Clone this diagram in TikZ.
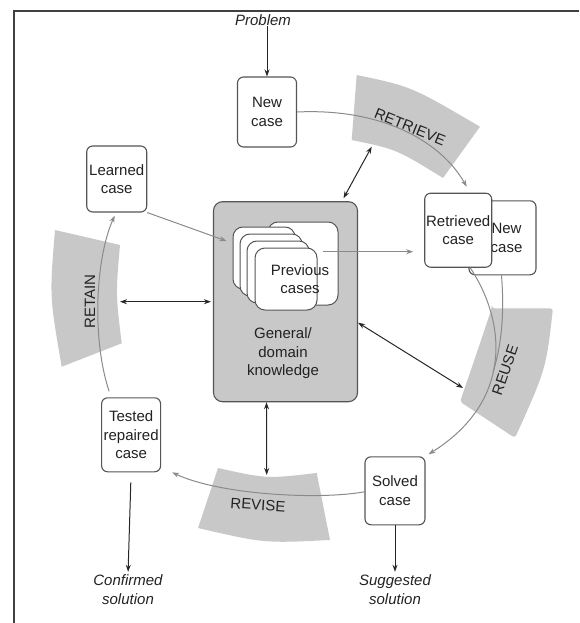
\documentclass[tikz,border=0pt]{standalone}
\usepackage{fontspec}
\setmainfont{Liberation Sans}
\usetikzlibrary{arrows.meta}
\definecolor{bandc}{HTML}{C8C8C8}
\definecolor{boxc}{HTML}{555555}
\definecolor{arrc}{HTML}{8A8A8A}
\definecolor{txt}{HTML}{222222}
\definecolor{framec}{HTML}{404040}
\begin{document}
\begin{tikzpicture}[x=1pt,y=-1pt,
  box/.style={draw=boxc, line width=1.1pt, rounded corners=6pt, fill=white, align=center, inner sep=0pt, font=\fontsize{15}{18.5}\selectfont, text=txt},
  card/.style={draw=boxc, line width=1pt, rounded corners=10pt, fill=white, inner sep=0pt},
  band/.style={fill=bandc},
  blab/.style={font=\fontsize{15}{18}\selectfont, text=txt, inner sep=0pt},
  plain/.style={font=\fontsize{15}{18.5}\selectfont, text=txt, align=center, inner sep=0pt},
  lab/.style={font=\fontsize{15}{19}\selectfont\itshape, align=center, text=txt, inner sep=0pt},
  blk/.style={draw=black!85, line width=1pt, -{Stealth[length=7pt,width=5pt]}},
  dbl/.style={draw=black!85, line width=1pt, {Stealth[length=7pt,width=5pt]}-{Stealth[length=7pt,width=5pt]}},
  gry/.style={draw=arrc, line width=1pt, -{Stealth[length=7pt,width=5pt]}},
  gline/.style={draw=arrc, line width=1pt}
]
\useasboundingbox (0,0) rectangle (579,623);
% frame
\draw[framec, line width=1.3pt] (579,11) -- (14,11) -- (14,623);

% bands
\fill[band] (356.7,75) .. controls (411.2,86.4) .. (480,126.7) -- (443,178) .. controls (396.5,149.3) .. (351.7,140) -- cycle;
\fill[band, rounded corners=3pt] (491.7,308.3) -- (553,308.3) .. controls (546,369) .. (515,438) -- (460,401.7) .. controls (477,352.3) .. cycle;
\fill[band] (218,468) .. controls (266.5,478.8) .. (316.7,473) -- (330,540) .. controls (264,543.3) .. (198,528) -- cycle;
\fill[band] (55,230) -- (120,245) .. controls (115.7,294) .. (121.7,343.3) -- (61.7,366.7) .. controls (49.5,296.2) .. cycle;

\node[blab, rotate=-22] (lretrieve) at (410,127) {RETRIEVE};
\node[blab, rotate=71] (lreuse) at (505,370) {REUSE};
\node[blab, rotate=-4] (lrevise) at (258,505) {REVISE};
\node[blab, rotate=90] (lretain) at (90,301.7) {RETAIN};

% band coordinates
\coordinate (retrIn) at (371.7,146.7);
\coordinate (retainIn) at (120,301.7);
\coordinate (reuseIn) at (463,388);
\coordinate (reviseTop) at (266.7,475);
\coordinate (pcout) at (323,251.7);
\coordinate (merge) at (493,372);

% central knowledge box
\node[draw=boxc, line width=1.1pt, fill=bandc, rounded corners=9pt, minimum width=144pt, minimum height=200pt, inner sep=0pt] (gk) at (285.5,301.7) {};
\node[plain] (gktext) at (283,353.5) {General/\\domain\\knowledge};

% previous cases stack
\node[card, minimum width=70pt, minimum height=83pt] (pc0) at (303,263.5) {};
\node[card, minimum width=62pt, minimum height=62pt] (pc1) at (264,258) {};
\node[card, minimum width=62pt, minimum height=62pt] (pc2) at (271,265) {};
\node[card, minimum width=62pt, minimum height=62pt] (pc3) at (278,272) {};
\node[card, minimum width=62pt, minimum height=62pt] (pc4) at (286,279) {};
\node[plain] (pctext) at (300,279) {Previous\\cases};

% case boxes
\node[box, minimum width=59pt, minimum height=70pt] (newc) at (267,112) {New\\case};
\node[box, minimum width=60pt, minimum height=66pt] (learned) at (116.7,179) {Learned\\case};
\node[box, minimum width=67pt, minimum height=74pt] (newc2) at (502.5,237.8) {\hspace*{8pt}New\\\hspace*{8pt}case};
\node[box, minimum width=67pt, minimum height=74pt] (retr) at (458.2,230.2) {Retrieved\\case};
\node[box, minimum width=60pt, minimum height=68pt] (solved) at (395,490.8) {Solved\\case};
\node[box, minimum width=59pt, minimum height=74pt] (tested) at (131.1,434.8) {Tested\\repaired\\case};

% labels
\node[lab] (prob) at (263,20) {Problem};
\node[lab] (conf) at (128,590) {Confirmed\\solution};
\node[lab] (sugg) at (395,590) {Suggested\\solution};

% connectors
\draw[blk] (prob.south -| newc.north) -- (newc.north);
\draw[gry] (newc.east) .. controls (380,108) and (440,140) .. ([xshift=8.5pt,yshift=6pt]retr.north);
\draw[dbl] (retrIn) -- ([xshift=-14.5pt,yshift=3pt]gk.north east);
\draw[gry] (learned.south east) -- ([xshift=-6pt,yshift=17pt]pc1.west);
\draw[gry] (pcout) -- ([xshift=-11pt,yshift=-21.5pt]retr.west);
\draw[dbl, shorten >=2pt] (retainIn) -- (gk.west);
\draw[dbl] ([yshift=-21pt]gk.east) -- (reuseIn);
\draw[dbl] ([xshift=-19pt]gk.south) -- (reviseTop);
\draw[blk, shorten >=3pt] (solved.south) -- (sugg.north);
\draw[blk, shorten <=10pt, shorten >=3pt] (tested.south) -- (conf.north);
\draw[gry] ([xshift=-22pt,yshift=6pt]tested.north) .. controls (92,340) and (95,260) .. ([xshift=-2pt,yshift=-3pt]learned.south);
\draw[gry] ([yshift=-1pt]solved.west) .. controls (320,500) and (220,495) .. ([xshift=11pt]tested.south east);
\draw[gry] ([xshift=12pt]retr.south) .. controls (505,320) and (515,400) .. ([xshift=3pt,yshift=2pt]solved.north east);
\draw[gline] ([xshift=-1pt]newc2.south) .. controls (505,320) and (500,350) .. (merge);
\end{tikzpicture}
\end{document}
